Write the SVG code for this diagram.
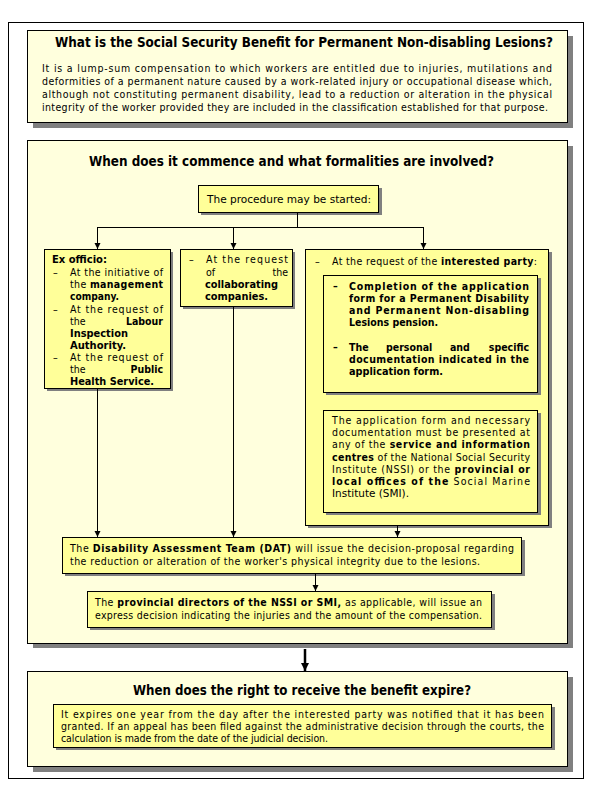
<svg xmlns="http://www.w3.org/2000/svg" width="589" height="787" viewBox="0 0 589 787">
<style>
.sec{fill:#FFFFDD;stroke:#000;stroke-width:1}
.box{fill:#FFFF99;stroke:#000;stroke-width:1}
.sh{fill:#808080}
.ln{stroke:#000;stroke-width:1;fill:none}
.lnb{stroke:#000;stroke-width:2.5;fill:none}
text{font-family:"DejaVu Sans Condensed","DejaVu Sans",sans-serif;font-size:10.5px;fill:#000}
.b{font-weight:bold}
.t{font-size:13.5px;font-weight:bold}
</style>
<defs>
<marker id="ah" markerUnits="userSpaceOnUse" markerWidth="7" markerHeight="7" refX="6" refY="3" orient="auto"><path d="M0,0 L6,3 L0,6 z" fill="#000"/></marker>
<marker id="ahb" markerUnits="userSpaceOnUse" markerWidth="10" markerHeight="10" refX="8" refY="4" orient="auto"><path d="M0,0 L8,4 L0,8 z" fill="#000"/></marker>
</defs>
<rect x="0" y="0" width="589" height="787" fill="#fff"/>
<rect id="frame" x="8.5" y="22.5" width="575" height="756" fill="none" stroke="#000" stroke-width="1"/>

<g id="what">
<rect class="sh" x="33" y="36" width="540" height="92"/>
<rect class="sec" x="27.5" y="30.5" width="540" height="92"/>
<text class="t" x="55" y="47" textLength="498" lengthAdjust="spacingAndGlyphs">What is the Social Security Benefit for Permanent Non-disabling Lesions?</text>
<text x="42" y="72" textLength="510" lengthAdjust="spacing">It is a lump-sum compensation to which workers are entitled due to injuries, mutilations and</text>
<text x="42" y="85" textLength="510" lengthAdjust="spacing">deformities of a permanent nature caused by a  work-related injury or occupational disease which,</text>
<text x="42" y="98" textLength="510" lengthAdjust="spacing">although not constituting permanent disability, lead to a reduction or alteration in the physical</text>
<text x="42" y="111" textLength="506" lengthAdjust="spacing">integrity of the worker provided they are included in the classification established for that purpose.</text>
</g>

<g id="when">
<rect class="sh" x="33" y="146" width="540" height="502"/>
<rect class="sec" x="27.5" y="140.5" width="540" height="503"/>
<text class="t" x="89" y="166" textLength="405" lengthAdjust="spacingAndGlyphs">When does it commence and what formalities are involved?</text>
</g>

<g id="start">
<rect class="sh" x="201" y="188" width="181" height="27"/>
<rect class="box" x="198.5" y="185.5" width="180" height="27"/>
<text x="207" y="203" textLength="164" lengthAdjust="spacingAndGlyphs">The procedure may be started:</text>
</g>

<g id="exofficio">
<rect class="sh" x="47" y="252" width="126" height="139"/>
<rect class="box" x="44.5" y="249.5" width="126" height="139"/>
<text class="b" x="52" y="263" textLength="55" lengthAdjust="spacingAndGlyphs">Ex officio:</text>
<text x="53" y="276">–</text>
<text x="70" y="276" textLength="93" lengthAdjust="spacing">At the initiative of</text>
<text x="70" y="288" textLength="93" lengthAdjust="spacing">the <tspan class="b">management</tspan></text>
<text class="b" x="70" y="300" textLength="49" lengthAdjust="spacingAndGlyphs">company.</text>
<text x="53" y="313">–</text>
<text x="70" y="313" textLength="93" lengthAdjust="spacing">At the request of</text>
<text x="70" y="325">the</text>
<text class="b" x="163" y="325" text-anchor="end">Labour</text>
<text class="b" x="70" y="337" textLength="58" lengthAdjust="spacingAndGlyphs">Inspection</text>
<text class="b" x="70" y="349" textLength="56" lengthAdjust="spacingAndGlyphs">Authority.</text>
<text x="53" y="361">–</text>
<text x="70" y="361" textLength="93" lengthAdjust="spacing">At the request of</text>
<text x="70" y="373">the</text>
<text class="b" x="163" y="373" text-anchor="end">Public</text>
<text class="b" x="70" y="385" textLength="84" lengthAdjust="spacingAndGlyphs">Health Service.</text>
</g>

<g id="collab">
<rect class="sh" x="183" y="252" width="112" height="57"/>
<rect class="box" x="180.5" y="249.5" width="112" height="57"/>
<text x="189" y="263">–</text>
<text x="206" y="263" textLength="82" lengthAdjust="spacing">At the request</text>
<text x="206" y="276">of</text>
<text x="288" y="276" text-anchor="end">the</text>
<text class="b" x="205" y="288" textLength="73" lengthAdjust="spacingAndGlyphs">collaborating</text>
<text class="b" x="205" y="300" textLength="63" lengthAdjust="spacingAndGlyphs">companies.</text>
</g>

<g id="interested">
<rect class="sh" x="308" y="252" width="244" height="276"/>
<rect class="box" x="305.5" y="249.5" width="243" height="276"/>
<text x="315" y="265">–</text>
<text x="332" y="265" textLength="205" lengthAdjust="spacing">At the request of the <tspan class="b">interested party</tspan>:</text>
</g>

<g id="forms">
<rect class="sh" x="326" y="278" width="215" height="117"/>
<rect class="box" x="323.5" y="275.5" width="214" height="117"/>
<text class="b" x="333" y="290">–</text>
<text class="b" x="349" y="290" textLength="180" lengthAdjust="spacing">Completion  of  the  application</text>
<text class="b" x="349" y="302" textLength="180" lengthAdjust="spacing">form for a Permanent Disability</text>
<text class="b" x="349" y="314" textLength="180" lengthAdjust="spacing">and   Permanent   Non-disabling</text>
<text class="b" x="349" y="326" textLength="89" lengthAdjust="spacingAndGlyphs">Lesions pension.</text>
<text class="b" x="333" y="351">–</text>
<text class="b" x="349" y="351">The</text>
<text class="b" x="386" y="351">personal</text>
<text class="b" x="450" y="351">and</text>
<text class="b" x="529" y="351" text-anchor="end">specific</text>
<text class="b" x="349" y="363" textLength="180" lengthAdjust="spacing">documentation indicated in the</text>
<text class="b" x="349" y="375" textLength="94" lengthAdjust="spacingAndGlyphs">application form.</text>
</g>

<g id="where">
<rect class="sh" x="326" y="413" width="215" height="102"/>
<rect class="box" x="323.5" y="410.5" width="214" height="102"/>
<text x="332" y="424" textLength="198" lengthAdjust="spacing">The application form and necessary</text>
<text x="332" y="436" textLength="198" lengthAdjust="spacing">documentation must be presented at</text>
<text x="332" y="448" textLength="198" lengthAdjust="spacing">any of the <tspan class="b">service and information</tspan></text>
<text x="332" y="461" textLength="198" lengthAdjust="spacing"><tspan class="b">centres</tspan> of the National Social Security</text>
<text x="332" y="473" textLength="198" lengthAdjust="spacing">Institute (NSSI) or the <tspan class="b">provincial or</tspan></text>
<text x="332" y="485" textLength="198" lengthAdjust="spacing"><tspan class="b">local offices of the</tspan> Social Marine</text>
<text x="332" y="497" textLength="77" lengthAdjust="spacingAndGlyphs">Institute (SMI).</text>
</g>

<g id="dat">
<rect class="sh" x="65" y="540" width="460" height="36"/>
<rect class="box" x="62.5" y="537.5" width="459" height="36"/>
<text x="70" y="552" textLength="444" lengthAdjust="spacing">The <tspan class="b">Disability Assessment Team (DAT)</tspan> will issue the decision-proposal regarding</text>
<text x="70" y="565" textLength="410" lengthAdjust="spacing">the reduction or alteration of the worker's physical integrity due to the lesions.</text>
</g>

<g id="directors">
<rect class="sh" x="90" y="594" width="405" height="36"/>
<rect class="box" x="87.5" y="591.5" width="404" height="36"/>
<text x="95" y="606" textLength="387" lengthAdjust="spacing">The <tspan class="b">provincial directors of the NSSI or SMI,</tspan> as applicable, will issue an</text>
<text x="95" y="619" textLength="387" lengthAdjust="spacing">express decision indicating the injuries and the amount of the compensation.</text>
</g>

<g id="expire">
<rect class="sh" x="33" y="677" width="540" height="95"/>
<rect class="sec" x="27.5" y="671.5" width="540" height="95"/>
<text class="t" x="133" y="695" textLength="338" lengthAdjust="spacingAndGlyphs">When does the right to receive the benefit expire?</text>
</g>

<g id="expiretext">
<rect class="sh" x="56" y="707" width="499" height="43"/>
<rect class="box" x="53.5" y="704.5" width="498" height="43"/>
<text x="61" y="718" textLength="483" lengthAdjust="spacing">It expires one year from the day after the interested party was notified that it has been</text>
<text x="61" y="730" textLength="483" lengthAdjust="spacing">granted. If an appeal has been filed against the administrative decision through the courts, the</text>
<text x="61" y="742" textLength="267" lengthAdjust="spacing">calculation is made from the date of the judicial decision.</text>
</g>

<g id="connectors">
<line class="ln" x1="297.5" y1="212" x2="297.5" y2="227.5"/>
<line class="ln" x1="97" y1="227.5" x2="423.5" y2="227.5"/>
<line class="ln" x1="97.5" y1="227" x2="97.5" y2="249" marker-end="url(#ah)"/>
<line class="ln" x1="233.5" y1="227" x2="233.5" y2="249" marker-end="url(#ah)"/>
<line class="ln" x1="423.5" y1="227" x2="423.5" y2="249" marker-end="url(#ah)"/>
<line class="ln" x1="97.5" y1="389" x2="97.5" y2="537" marker-end="url(#ah)"/>
<line class="ln" x1="233.5" y1="307" x2="233.5" y2="537" marker-end="url(#ah)"/>
<line class="ln" x1="397.5" y1="526" x2="397.5" y2="537" marker-end="url(#ah)"/>
<line class="ln" x1="315.5" y1="574" x2="315.5" y2="591" marker-end="url(#ah)"/>
<line class="lnb" x1="305" y1="649" x2="305" y2="671" marker-end="url(#ahb)"/>
</g>
</svg>
